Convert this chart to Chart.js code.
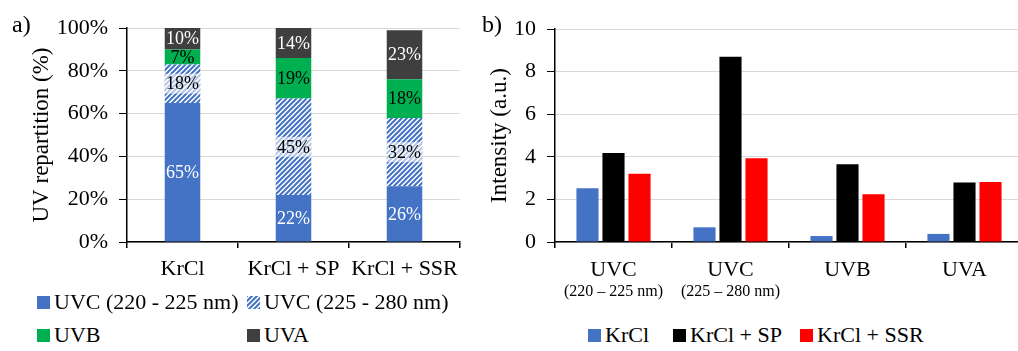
<!DOCTYPE html>
<html>
<head>
<meta charset="utf-8">
<script src="https://cdn.jsdelivr.net/npm/chart.js@4.4.1/dist/chart.umd.min.js"></script>
<style>
  html, body { margin: 0; padding: 0; background: #fff; overflow: hidden; width: 1018px; height: 351px; }
  body { position: relative; font-family: 'Liberation Serif', 'Times New Roman', serif; color: #000; }
  .panel { position: absolute; top: 0; }
  .tag { position: absolute; font-size: 24px; line-height: 1; }
  .leg { position: absolute; font-size: 22px; line-height: 22px; white-space: nowrap; display: flex; align-items: center; }
  .leg canvas { width: 13px; height: 13px; margin-right: 4px; }
</style>
</head>
<body>
<div class="panel" style="left:0;width:470px;height:290px"><canvas id="repartitionChart"></canvas></div>
<div class="panel" style="left:480px;width:545px;height:310px"><canvas id="intensityChart"></canvas></div>
<div class="tag" style="left:12px;top:12px">a)</div>
<div class="tag" style="left:482px;top:12px">b)</div>

<script>
// --- a) UV repartition per lamp (%) ---
const lamps = ['KrCl', 'KrCl + SP', 'KrCl + SSR'];
const uvc220 = [65, 22, 26];
const uvc225 = [18, 45, 32];
const uvb = [7, 19, 18];
const uva = [10, 14, 23];

// --- b) Intensity per band (a.u.) ---
const bands = [['UVC', '(220 – 225 nm)'], ['UVC', '(225 – 280 nm)'], ['UVB'], ['UVA']];
const krcl = [2.52, 0.69, 0.28, 0.38];
const krclSP = [4.18, 8.70, 3.65, 2.79];
const krclSSR = [3.21, 3.93, 2.24, 2.82];

const FONT = 'Liberation Serif';
const colors = {
    blue: '#4472C4',
    green: '#00B050',
    dark: '#3F3F3F',
    black: '#000000',
    red: '#FF0000',
    grid: '#D9D9D9'
};

// diagonal blue hatch on white
function hatchTile() {
    const c = document.createElement('canvas');
    c.width = 5; c.height = 5;
    const g = c.getContext('2d');
    g.fillStyle = '#fff';
    g.fillRect(0, 0, 5, 5);
    g.strokeStyle = colors.blue;
    g.lineWidth = 2;
    g.beginPath();
    g.moveTo(-1, 6); g.lineTo(6, -1);
    g.moveTo(-3.5, 3.5); g.lineTo(3.5, -3.5);
    g.moveTo(1.5, 8.5); g.lineTo(8.5, 1.5);
    g.stroke();
    return c;
}
const tile = hatchTile();
const hatch = document.getElementById('repartitionChart').getContext('2d').createPattern(tile, 'repeat');

// percentage labels in the middle of each stacked segment
const segmentLabels = {
    id: 'segmentLabels',
    afterDatasetsDraw(chart) {
        const ctx = chart.ctx;
        ctx.save();
        ctx.font = '18px "' + FONT + '"';
        ctx.textAlign = 'center';
        ctx.textBaseline = 'middle';
        chart.data.datasets.forEach((ds, i) => {
            chart.getDatasetMeta(i).data.forEach((bar, j) => {
                const y = (bar.y + bar.base) / 2;
                if (ds.labelBackdrop) {
                    ctx.fillStyle = ds.labelBackdrop;
                    ctx.fillRect(bar.x - bar.width / 2, y - 10, bar.width, 20);
                }
                ctx.fillStyle = ds.labelColor;
                ctx.fillText(ds.data[j] + '%', bar.x, y + 1);
            });
        });
        ctx.restore();
    }
};

// category names under the x axis (second line in a smaller size)
const categoryLabels = {
    id: 'categoryLabels',
    afterDraw(chart, args, opts) {
        const xs = chart.scales.x, ctx = chart.ctx;
        ctx.save();
        ctx.fillStyle = '#000';
        ctx.textAlign = 'center';
        ctx.textBaseline = 'middle';
        chart.data.labels.forEach((lab, i) => {
            const lines = [].concat(lab);
            const px = xs.getPixelForValue(i);
            ctx.font = opts.size + 'px "' + FONT + '"';
            ctx.fillText(lines[0], px, opts.y);
            if (lines[1]) {
                ctx.font = opts.subSize + 'px "' + FONT + '"';
                ctx.fillText(lines[1], px, opts.subY);
            }
        });
        ctx.restore();
    }
};

function yAxis(extra) {
    return Object.assign({
        grid: { color: colors.grid, lineWidth: 1, tickColor: '#000', tickLength: 8 },
        border: { color: '#000', width: 1.5 }
    }, extra);
}

function xAxis(height, stacked) {
    return {
        stacked: stacked,
        ticks: { display: false },
        grid: { display: true, drawOnChartArea: false, offset: true, tickLength: 6, tickColor: '#000', lineWidth: 1.5 },
        border: { color: '#000', width: 1.5 },
        afterFit: s => { s.height = height; }
    };
}

const repartitionChart = new Chart(document.getElementById('repartitionChart'), {
    type: 'bar',
    data: {
        labels: lamps,
        datasets: [
            { label: 'UVC (220 - 225 nm)', data: uvc220, backgroundColor: colors.blue, labelColor: '#fff' },
            { label: 'UVC (225 - 280 nm)', data: uvc225, backgroundColor: hatch, swatch: 'hatch', labelColor: '#000', labelBackdrop: 'rgba(255,255,255,0.6)' },
            { label: 'UVB', data: uvb, backgroundColor: colors.green, labelColor: '#000' },
            { label: 'UVA', data: uva, backgroundColor: colors.dark, labelColor: '#fff' }
        ]
    },
    options: {
        responsive: true,
        maintainAspectRatio: false,
        animation: false,
        layout: { padding: { top: 28, right: 10, left: 0, bottom: 0 } },
        datasets: { bar: { barPercentage: 0.32, categoryPercentage: 1, borderWidth: 0 } },
        scales: {
            x: xAxis(48, true),
            y: yAxis({
                stacked: true, min: 0, max: 100,
                ticks: { stepSize: 20, callback: v => v + '%', font: { family: FONT, size: 22 }, color: '#000', padding: 11 },
                title: { display: true, text: 'UV repartition (%)', font: { family: FONT, size: 23 }, color: '#000', padding: { top: 28, bottom: 0 } },
                afterFit: s => { s.width = 127; }
            })
        },
        plugins: {
            legend: { display: false },
            tooltip: { enabled: false },
            categoryLabels: { y: 269, size: 22 }
        }
    },
    plugins: [segmentLabels, categoryLabels]
});

const intensityChart = new Chart(document.getElementById('intensityChart'), {
    type: 'bar',
    data: {
        labels: bands,
        datasets: [
            { label: 'KrCl', data: krcl, backgroundColor: colors.blue },
            { label: 'KrCl + SP', data: krclSP, backgroundColor: colors.black },
            { label: 'KrCl + SSR', data: krclSSR, backgroundColor: colors.red }
        ]
    },
    options: {
        responsive: true,
        maintainAspectRatio: false,
        animation: false,
        layout: { padding: { top: 29, right: 2, left: 0, bottom: 0 } },
        datasets: { bar: { barPercentage: 0.85, categoryPercentage: 0.667, borderWidth: 0 } },
        scales: {
            x: xAxis(68, false),
            y: yAxis({
                min: 0, max: 10,
                ticks: { stepSize: 2, font: { family: FONT, size: 22 }, color: '#000', padding: 11 },
                title: { display: true, text: 'Intensity (a.u.)', font: { family: FONT, size: 23 }, color: '#000', padding: { top: 6, bottom: 0 } },
                afterFit: s => { s.width = 75; }
            })
        },
        plugins: {
            legend: { display: false },
            tooltip: { enabled: false },
            categoryLabels: { y: 270, size: 22, subY: 292, subSize: 16 }
        }
    },
    plugins: [categoryLabels]
});

// HTML legends built from the datasets
function legendItem(ds, left, centerY) {
    const item = document.createElement('div');
    item.className = 'leg';
    item.style.left = left + 'px';
    item.style.top = (centerY - 11) + 'px';
    const sw = document.createElement('canvas');
    sw.width = 13; sw.height = 13;
    const g = sw.getContext('2d');
    g.fillStyle = ds.swatch === 'hatch' ? g.createPattern(tile, 'repeat') : ds.backgroundColor;
    g.fillRect(0, 0, 13, 13);
    item.appendChild(sw);
    item.appendChild(document.createTextNode(ds.label));
    document.body.appendChild(item);
}

const slotsA = [[37, 302], [247, 302], [37, 335], [247, 335]];
repartitionChart.data.datasets.forEach((ds, i) => legendItem(ds, slotsA[i][0], slotsA[i][1]));

const slotsB = [588, 673, 800];
intensityChart.data.datasets.forEach((ds, i) => legendItem(ds, slotsB[i], 335));
</script>
</body>
</html>
